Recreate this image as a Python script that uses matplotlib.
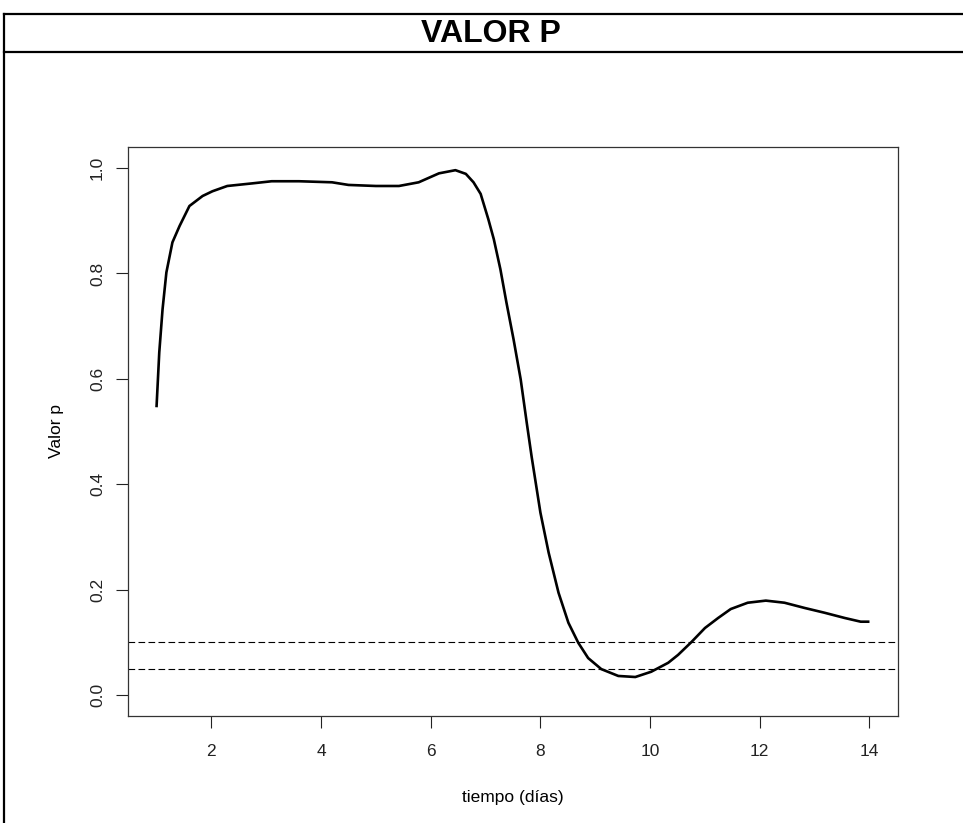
import matplotlib
matplotlib.use("Agg")
import matplotlib.pyplot as plt
from matplotlib.lines import Line2D

plt.rcParams['font.family'] = ['Liberation Sans', 'DejaVu Sans']

# data
dias = [1.0, 1.05, 1.11, 1.18, 1.29, 1.42, 1.6, 1.84, 2.02, 2.29, 2.75, 3.1, 3.6,
        4.2, 4.5, 5.0, 5.42, 5.78, 6.15, 6.45, 6.64, 6.78, 6.91, 7.05, 7.15,
        7.27, 7.38, 7.51, 7.64, 7.75, 7.84, 8.0, 8.15, 8.33, 8.51, 8.69, 8.87,
        9.11, 9.42, 9.73, 10.02, 10.33, 10.51, 10.75, 11.0, 11.24, 11.47, 11.78,
        12.11, 12.45, 12.82, 13.18, 13.55, 13.84, 14.0]
valor_p = [0.546, 0.65, 0.732, 0.802, 0.859, 0.890, 0.928, 0.947, 0.956, 0.966,
           0.971, 0.975, 0.975, 0.973, 0.968, 0.966, 0.966, 0.973, 0.990, 0.996,
           0.989, 0.973, 0.951, 0.903, 0.865, 0.808, 0.745, 0.675, 0.599, 0.517,
           0.452, 0.346, 0.27, 0.194, 0.137, 0.099, 0.070, 0.049, 0.036, 0.034,
           0.044, 0.061, 0.076, 0.10, 0.127, 0.146, 0.163, 0.175, 0.179, 0.175,
           0.165, 0.156, 0.146, 0.139, 0.139]
umbrales = [0.1, 0.05]
xticks = [2, 4, 6, 8, 10, 12, 14]
yticks = [0.0, 0.2, 0.4, 0.6, 0.8, 1.0]
titulo = "VALOR P"

W, H = 963, 823
fig = plt.figure(figsize=(W / 100, H / 100), dpi=100)

def fx(px):
    return px / W
def fy(py):
    return 1 - py / H

# outer table frame
lw_frame = 1.6
fig.add_artist(Line2D([fx(4), 1.0], [fy(14), fy(14)], color='black', lw=lw_frame))
fig.add_artist(Line2D([fx(4), 1.0], [fy(52), fy(52)], color='black', lw=lw_frame))
fig.add_artist(Line2D([fx(4), fx(4)], [fy(14), 0.0], color='black', lw=lw_frame))
fig.text(fx(491), fy(34), titulo, ha='center', va='center', fontsize=23,
         fontweight='bold')

ax = fig.add_axes([fx(128), fy(716), fx(898) - fx(128), fy(147) - fy(716)])
ax.plot(dias, valor_p, color='black', lw=1.9, solid_joinstyle='round',
        solid_capstyle='butt')
for u in umbrales:
    ax.axhline(u, color='black', lw=0.8, dashes=(6, 3))

ax.set_xlim(0.48, 14.52)
ax.set_ylim(-0.04, 1.04)
ax.set_xticks(xticks)
ax.set_xticklabels([str(t) for t in xticks])
ax.set_yticks(yticks)
ax.set_yticklabels([f"{t:.1f}" for t in yticks], rotation=90, va='center')
ax.tick_params(axis='both', length=8.5, width=0.8, labelsize=12.5, colors='#222222')
ax.tick_params(axis='x', pad=12)
ax.tick_params(axis='y', pad=8)
for s in ax.spines.values():
    s.set_linewidth(0.9)
    s.set_color('#333333')

ax.set_xlabel("tiempo (días)", fontsize=12.5, labelpad=22)
ax.set_ylabel("Valor p", fontsize=12.5, labelpad=19)

fig.savefig("out.png", dpi=100)
